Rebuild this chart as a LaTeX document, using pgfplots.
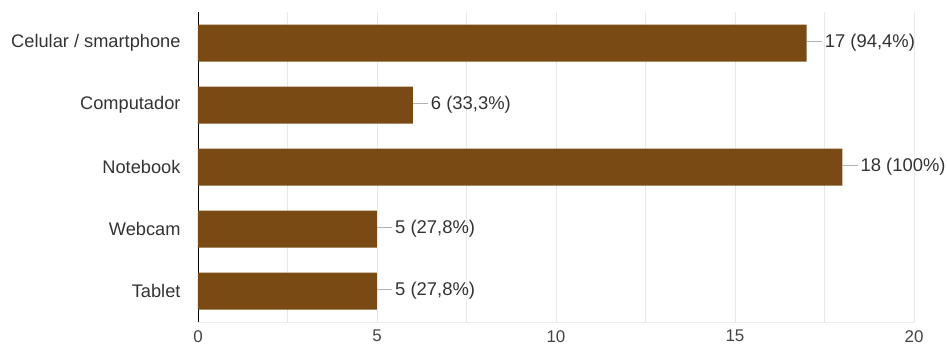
\documentclass[border=0pt]{standalone}
\usepackage{pgfplots}
\pgfplotsset{compat=1.18}
\usepackage{fontspec}
\setmainfont{Liberation Sans}
\definecolor{barbrown}{RGB}{122,74,20}
\definecolor{lbl}{RGB}{51,51,51}
\definecolor{tk}{RGB}{68,68,68}
\begin{document}
\begin{tikzpicture}
\path[use as bounding box] (-198bp,-25bp) rectangle (749bp,322bp);
\begin{axis}[
  at={(0,0)}, anchor=south west,
  scale only axis, width=716bp, height=310bp,
  xmin=0, xmax=20, ymin=-0.5, ymax=4.5,
  y dir=reverse,
  xbar, bar width=37bp,
  axis y line*=left, axis x line*=bottom,
  axis line style={-},
  x axis line style={draw=gray!15},
  y axis line style={draw=black, line width=0.8bp},
  xtick={0,5,10,15,20}, minor x tick num=1,
  xmajorgrids, xminorgrids,
  major grid style={draw=gray!18},
  minor grid style={draw=gray!18},
  major tick length=0pt, minor tick length=0pt,
  ytick={0,1,2,3,4},
  yticklabels={Celular / smartphone, Computador, Notebook, Webcam, Tablet},
  yticklabel style={font=\fontsize{18.3}{20}\selectfont, text=lbl, xshift=-14bp},
  xticklabel style={font=\fontsize{17}{19}\selectfont, text=tk, inner sep=0pt, anchor=north, yshift=-8bp},
  /pgf/number format/assume math mode=true,
  point meta=explicit symbolic,
  nodes near coords={\textcolor{gray!60}{\rule[0.3em]{15bp}{0.8bp}}\hspace{3bp}\pgfplotspointmeta},
  nodes near coords style={anchor=west, inner sep=0pt, font=\fontsize{18.5}{20}\selectfont, text=lbl},
]
\addplot[fill=barbrown, draw=none] coordinates {
  (17,0) [17 (94,4\%)]
  (6,1) [6 (33,3\%)]
  (18,2) [18 (100\%)]
  (5,3) [5 (27,8\%)]
  (5,4) [5 (27,8\%)]
};
\end{axis}
\end{tikzpicture}
\end{document}
